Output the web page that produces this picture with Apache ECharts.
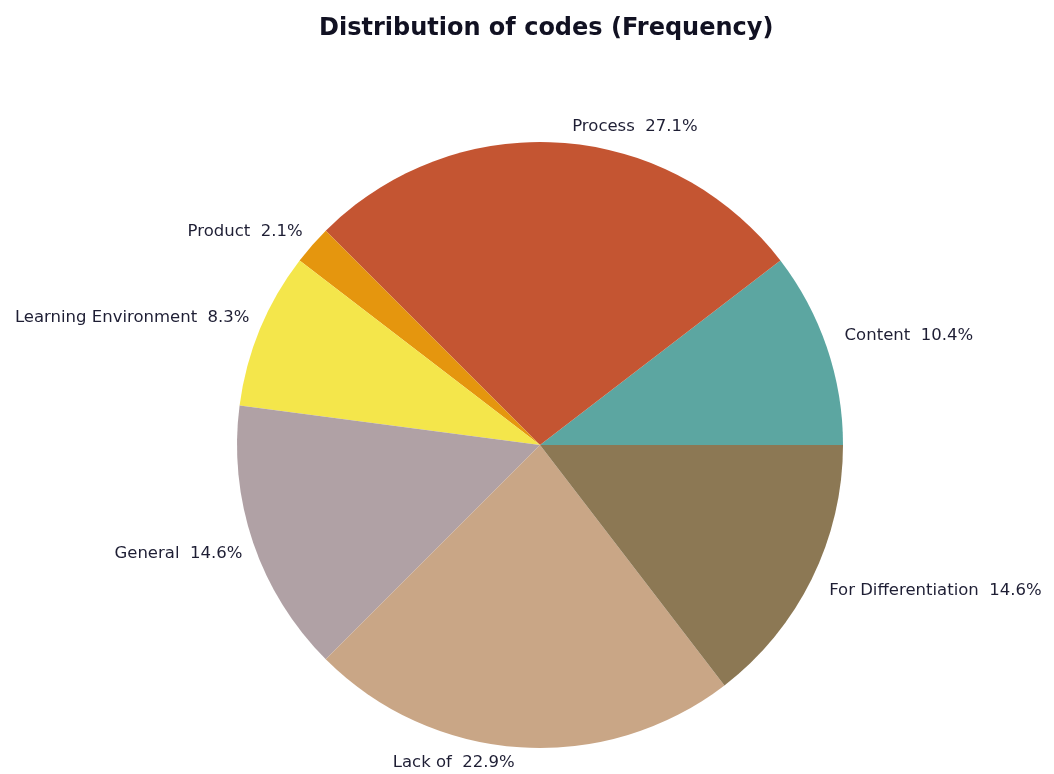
<!DOCTYPE html>
<html>
<head>
<meta charset="utf-8">
<script src="https://cdn.jsdelivr.net/npm/echarts@6/dist/echarts.min.js"></script>
<style>
  html, body { margin: 0; padding: 0; background: #fff; }
  #chart { width: 1054px; height: 774px; }
</style>
</head>
<body>
<div id="chart"></div>
<script>
// code categories, counterclockwise from 3 o'clock
var codeNames = ['Content', 'Process', 'Product', 'Learning Environment', 'General', 'Lack of', 'For Differentiation'];
// frequencies (48 codes in total)
var codeCounts = [5, 13, 1, 4, 7, 11, 7];
var codeColors = ['#5ca6a1', '#c45532', '#e5960e', '#f4e64b', '#b0a1a5', '#c9a686', '#8c7854'];

var myChart = echarts.init(document.getElementById('chart'));

// labels above the centre sit on top of their anchor, the lower ones hang below it
var total = codeCounts.reduce(function (a, b) { return a + b; }, 0);
var acc = 0;
var labelUp = [];
var pieData = codeNames.map(function (name, i) {
    var mid = (acc + codeCounts[i] / 2) / total * Math.PI * 2;
    acc += codeCounts[i];
    labelUp.push(Math.sin(mid) > 0);
    return {
        name: name,
        value: codeCounts[i],
        itemStyle: { color: codeColors[i] },
        label: { padding: [0, 0, 0, Math.cos(mid) > 0 ? 7 : 0] }
    };
});

option = {
    animation: false,
    title: {
        text: 'Distribution of codes (Frequency)',
        left: 314,
        top: 12,
        textStyle: {
            fontFamily: 'DejaVu Sans',
            fontSize: 24,
            fontWeight: 'bold',
            color: '#111122'
        }
    },
    series: [
        {
            type: 'pie',
            center: [540, 445],
            radius: 303,
            startAngle: 0,
            clockwise: false,
            avoidLabelOverlap: false,
            percentPrecision: 1,
            label: {
                show: true,
                position: 'outside',
                formatter: function (p) {
                    var txt = p.name + '  ' + p.percent + '%';
                    return labelUp[p.dataIndex] ? txt + '\n ' : ' \n' + txt;
                },
                fontFamily: 'DejaVu Sans',
                fontSize: 16.5,
                lineHeight: 19,
                color: '#1e1e34',
                distanceToLabelLine: 5
            },
            labelLine: {
                show: false,
                length: 6,
                length2: 0
            },
            itemStyle: { borderWidth: 0 },
            data: pieData
        }
    ]
};

myChart.setOption(option);

window.addEventListener('resize', function () {
    myChart.resize();
});
</script>
</body>
</html>
